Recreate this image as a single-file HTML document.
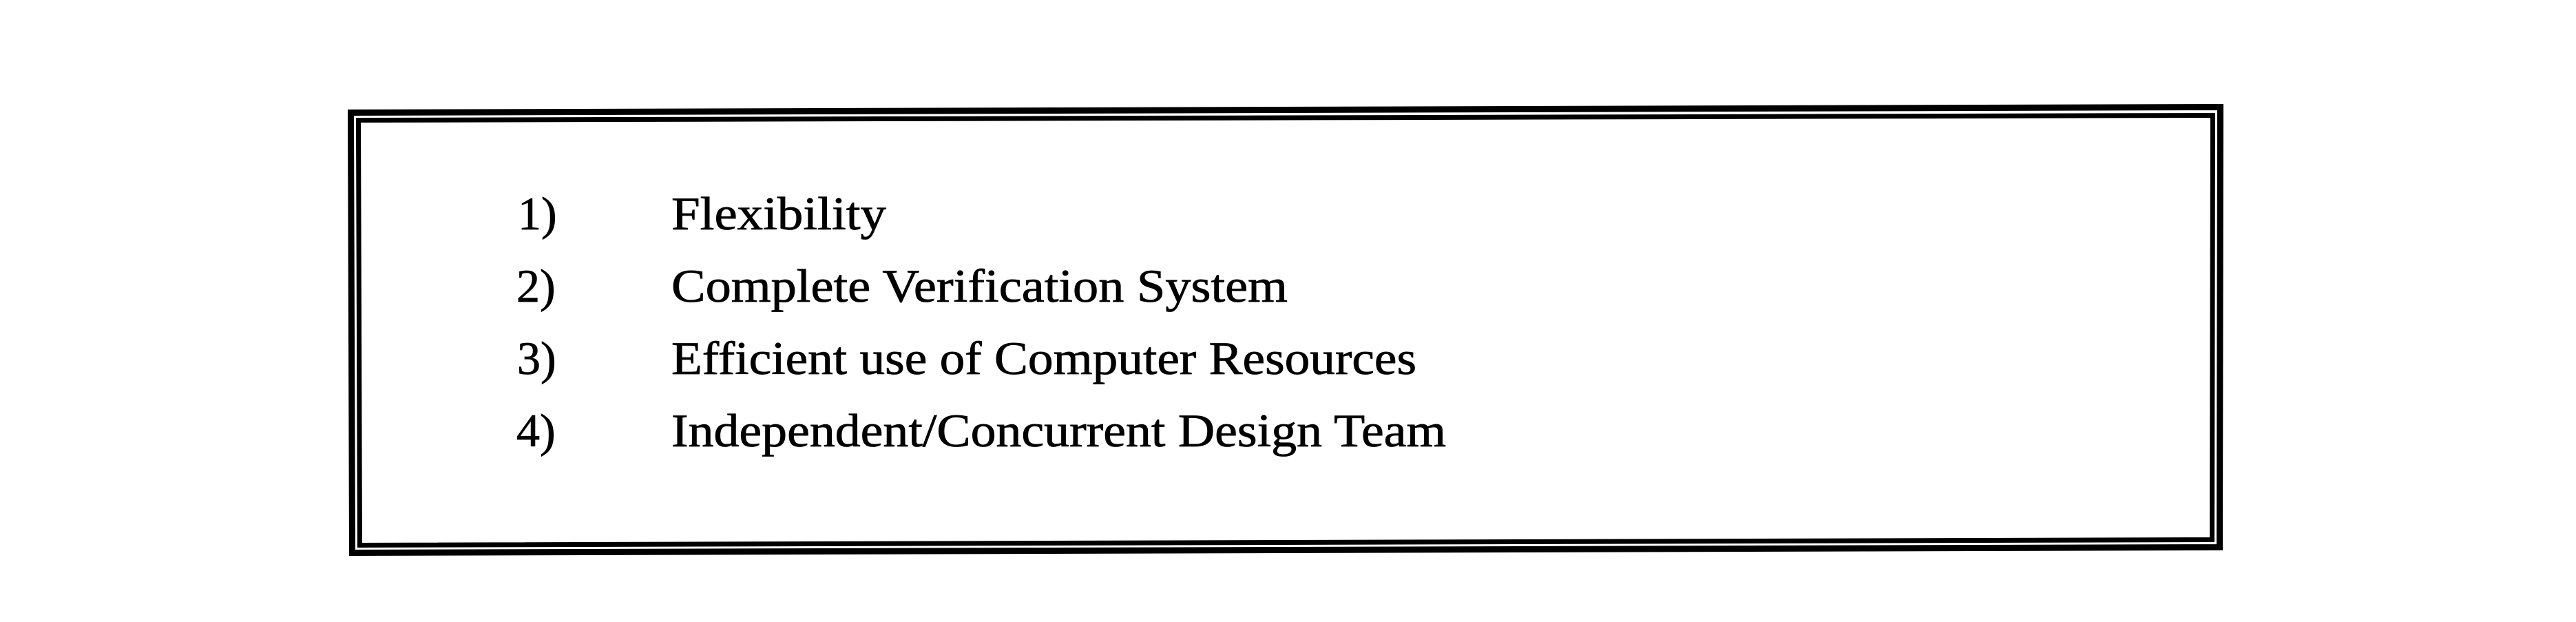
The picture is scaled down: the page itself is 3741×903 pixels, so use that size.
<!DOCTYPE html>
<html><head><meta charset="utf-8"><style>
html,body{margin:0;padding:0;background:#fff;}
svg{display:block;}
text{font-family:"Liberation Serif",serif;font-size:68px;fill:#000;stroke:#000;stroke-width:0.8px;}
</style></head><body>
<svg width="3741" height="903" viewBox="0 0 3741 903" xmlns="http://www.w3.org/2000/svg">
  <rect x="0" y="0" width="3741" height="903" fill="#fff"/>
  <polygon points="509.5,163.5 3224.5,155.5 3223.5,794.5 511.5,802.5" fill="none" stroke="#000" stroke-width="9"/>
  <polygon points="520.5,174.5 3213.5,167.5 3212.5,783.5 522.5,791.5" fill="none" stroke="#000" stroke-width="7"/>
  <g>
    <text x="752" y="333">1)</text>
    <text x="975" y="333" textLength="312" lengthAdjust="spacingAndGlyphs">Flexibility</text>
    <text x="750" y="438">2)</text>
    <text x="975" y="438" textLength="895" lengthAdjust="spacingAndGlyphs">Complete Verification System</text>
    <text x="751" y="543">3)</text>
    <text x="975" y="543" textLength="1082" lengthAdjust="spacingAndGlyphs">Efficient use of Computer Resources</text>
    <text x="750" y="648">4)</text>
    <text x="975" y="648" textLength="1125" lengthAdjust="spacingAndGlyphs">Independent/Concurrent Design Team</text>
  </g>
</svg>
</body></html>
